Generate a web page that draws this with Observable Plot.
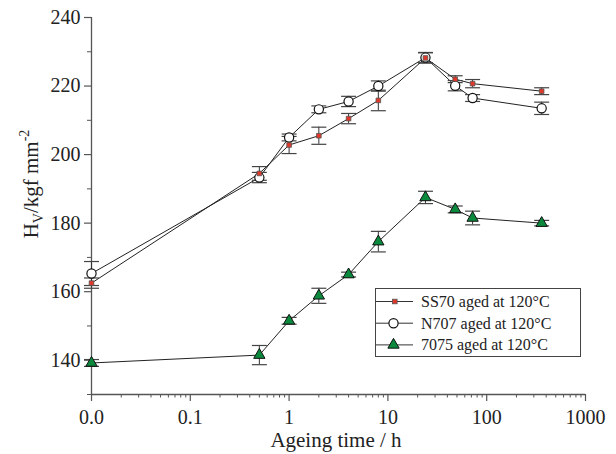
<!DOCTYPE html>
<html>
<head>
<meta charset="utf-8">
<script src="https://cdn.jsdelivr.net/npm/d3@7"></script>
<script src="https://cdn.jsdelivr.net/npm/@observablehq/plot@0.6"></script>
<style>
  html, body { margin: 0; padding: 0; background: #fff; }
  #wrap { position: relative; width: 616px; height: 454px; }
  #wrap, #wrap svg, #wrap svg text { font-family: "Liberation Serif", "Times New Roman", Times, "DejaVu Serif", serif !important; }
  #legend { position: absolute; left: 375px; top: 288px; }
</style>
</head>
<body>
<div id="wrap"><div id="chart"></div><div id="legend"></div></div>
<script>
// Ageing time in hours (0 = as-quenched, drawn at the "0.0" position)
const times = [0, 0.5, 1, 2, 4, 8, 24, 48, 72, 360];
const seriesNames = ["SS70 aged at 120°C", "N707 aged at 120°C", "7075 aged at 120°C"];
const ss70 = [162.5, 194.5, 202.8, 205.5, 210.5, 215.8, 228.2, 222.0, 220.7, 218.5];
const ss70Err = [1.5, 2.0, 2.5, 2.5, 1.5, 3.0, 1.5, 1.0, 1.2, 1.0];
const n707 = [165.3, 193.3, 205.0, 213.2, 215.5, 220.0, 228.3, 220.1, 216.5, 213.5];
const n707Err = [3.5, 1.5, 1.0, 1.0, 1.5, 1.5, 1.5, 1.5, 1.0, 1.8];
const a7075 = [139.2, 141.5, 151.5, 158.8, 165.0, 174.6, 187.5, 184.0, 181.5, 180.0];
const a7075Err = [1.0, 2.8, 1.0, 2.2, 0.7, 3.0, 1.8, 1.0, 2.0, 0.8];
const xTicks = [0.01, 0.1, 1, 10, 100, 1000];
const xTickLabels = ["0.0", "0.1", "1", "10", "100", "1000"];
const yTicks = [140, 160, 180, 200, 220, 240];
const yMinor = [130, 150, 170, 190, 210, 230];

const ZERO_POS = 0.01;
const xMinor = [];
for (let e = -2; e < 3; e++) for (let m = 2; m <= 9; m++) xMinor.push(+(m * Math.pow(10, e)).toPrecision(3));

const all = [];
[[ss70, ss70Err], [n707, n707Err], [a7075, a7075Err]].forEach(([v, err], si) => {
  v.forEach((val, i) => all.push({
    series: seriesNames[si], t: times[i] === 0 ? ZERO_POS : times[i],
    v: val, lo: val - err[i], hi: val + err[i]
  }));
});
const bySeries = s => all.filter(d => d.series === s);

const capSymbol = { draw(ctx) { ctx.moveTo(-7.5, 0); ctx.lineTo(7.5, 0); } };
const axisColor = "#555";
const red = "#e2382a", green = "#0b8a3e";
const serif = '"Liberation Serif", "Times New Roman", Times, serif';

const chart = Plot.plot({
  width: 616, height: 454,
  marginLeft: 91, marginRight: 31, marginTop: 17, marginBottom: 60,
  style: { fontFamily: serif, fontSize: "20px", background: "white", color: "#222" },
  x: { type: "log", domain: [0.01, 1000] },
  y: { domain: [130, 240] },
  marks: [
    Plot.ruleY([130], { stroke: axisColor, strokeWidth: 1.3 }),
    Plot.ruleX([0.01], { stroke: axisColor, strokeWidth: 1.3 }),
    Plot.axisX(xTicks, { tickSize: 7, tickPadding: 8, stroke: axisColor, strokeWidth: 1.2,
      tickFormat: d => xTickLabels[xTicks.indexOf(d)], label: null }),
    Plot.axisX(xMinor, { tickSize: 3.5, stroke: axisColor, tickFormat: () => "", label: null }),
    Plot.axisY(yTicks, { tickSize: 7, tickPadding: 4, stroke: axisColor, strokeWidth: 1.2, label: null }),
    Plot.axisY(yMinor, { tickSize: 4, stroke: axisColor, tickFormat: () => "", label: null }),
    Plot.line(all, { x: "t", y: "v", z: "series", stroke: "#222", strokeWidth: 1 }),
    Plot.ruleX(all, { x: "t", y1: "lo", y2: "hi", stroke: "#333", strokeWidth: 1 }),
    Plot.dot(all, { x: "t", y: "lo", symbol: capSymbol, r: 1, stroke: "#444", strokeWidth: 1.2, fill: "none" }),
    Plot.dot(all, { x: "t", y: "hi", symbol: capSymbol, r: 1, stroke: "#444", strokeWidth: 1.2, fill: "none" }),
    Plot.dot(bySeries(seriesNames[1]), { x: "t", y: "v", symbol: "circle", r: 4.6, fill: "white", stroke: "#111", strokeWidth: 1.2 }),
    Plot.dot(bySeries(seriesNames[0]), { x: "t", y: "v", symbol: "square", r: 2.6, fill: red, stroke: "#555", strokeWidth: 0.8 }),
    Plot.dot(bySeries(seriesNames[2]), { x: "t", y: "v", symbol: "triangle", r: 4.2, fill: green, stroke: "#111", strokeWidth: 1 })
  ]
});
document.getElementById("chart").append(chart);

const svg = d3.select(chart);
// x axis title
svg.append("text").attr("x", 336).attr("y", 447).attr("text-anchor", "middle")
  .attr("font-size", 21).attr("fill", "#222").text("Ageing time / h");
// y axis title with sub/superscript
const yl = svg.append("text").attr("transform", "translate(38,184) rotate(-90)")
  .attr("text-anchor", "middle").attr("font-size", 21).attr("fill", "#222");
yl.append("tspan").text("H");
yl.append("tspan").attr("font-size", 14).attr("dy", 5).text("V");
yl.append("tspan").attr("dy", -5).text("/kgf mm");
yl.append("tspan").attr("font-size", 14).attr("dy", -9).text("-2");

// Legend (inside plot area, drawn as a small svg overlay)
const leg = d3.select("#legend").append("svg").attr("width", 206).attr("height", 69)
  .style("display", "block");
leg.append("rect").attr("x", 0.5).attr("y", 0.5).attr("width", 205).attr("height", 68)
  .attr("fill", "white").attr("stroke", "#444").attr("stroke-width", 1);
seriesNames.forEach((name, i) => {
  const cy = 13.5 + i * 21.7;
  const g = leg.append("g");
  g.append("line").attr("x1", 1).attr("x2", 38).attr("y1", cy).attr("y2", cy).attr("stroke", "#333");
  if (i === 0) g.append("rect").attr("x", 17.5).attr("y", cy - 2.3).attr("width", 4.6).attr("height", 4.6)
      .attr("fill", red).attr("stroke", "#555").attr("stroke-width", 0.8);
  if (i === 1) g.append("circle").attr("cx", 18.5).attr("cy", cy).attr("r", 4.6).attr("fill", "white").attr("stroke", "#111").attr("stroke-width", 1.2);
  if (i === 2) g.append("path").attr("transform", `translate(18.5,${cy})`)
      .attr("d", d3.symbol(d3.symbolTriangle, Math.PI * 4.2 * 4.2)()).attr("fill", green).attr("stroke", "#111");
  g.append("text").attr("x", 46).attr("y", cy + 5.5).attr("font-size", 16).attr("fill", "#222").text(name);
});
</script>
</body>
</html>
